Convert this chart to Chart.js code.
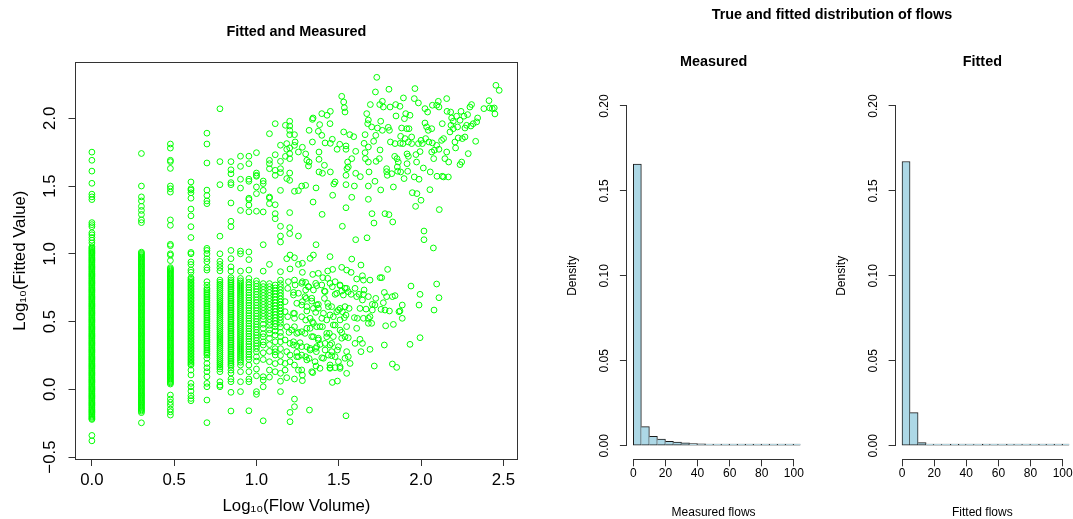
<!DOCTYPE html>
<html><head><meta charset="utf-8">
<script src="https://cdn.jsdelivr.net/npm/chart.js@4.4.1/dist/chart.umd.min.js"></script>
<style>
html,body{margin:0;padding:0;background:#fff;width:1073px;height:519px;overflow:hidden}
canvas{position:absolute;top:0}
#supTitle{position:absolute;left:632px;width:400px;top:6px;height:18px;line-height:18px;text-align:center;font:bold 14.4px "Liberation Sans",Arial,Helvetica,sans-serif;color:#000}
</style></head><body>
<canvas id="scatter" width="540" height="519" style="left:0px"></canvas>
<canvas id="histMeasured" width="266" height="519" style="left:540px"></canvas>
<canvas id="histFitted" width="267" height="519" style="left:806px"></canvas>
<div id="supTitle">True and fitted distribution of flows</div>
<script>
// ---------------- Scatter: Log10(Flow Volume) vs Log10(Fitted Value) ----------------
const scatterXTicks = [0, 0.5, 1.0, 1.5, 2.0, 2.5];
const scatterXTickLabels = ['0.0', '0.5', '1.0', '1.5', '2.0', '2.5'];
const scatterYTicks = [-0.5, 0, 0.5, 1.0, 1.5, 2.0];
const scatterYTickLabels = ['\u22120.5', '0.0', '0.5', '1.0', '1.5', '2.0'];

// columns of small integer flows (x = log10 of flows 1..14)
const colFlowLog = [0, 0.301, 0.477, 0.602, 0.699, 0.778, 0.845, 0.903, 0.954, 1.0, 1.041, 1.079, 1.114, 1.146];
const colFitted = [
 [1.75,1.69,1.61,1.52,1.44,1.42,1.40,1.23,1.215,1.20,1.155,1.14,1.12,1.10,1.08,
  1.052,1.043,1.035,1.026,1.018,1.009,1.001,0.992,0.984,0.975,0.967,0.958,0.950,0.941,0.933,0.924,0.916,0.907,0.899,0.890,0.882,0.873,0.865,0.856,0.848,0.839,0.831,0.822,0.814,0.805,0.797,0.788,0.780,0.771,0.763,0.754,0.746,0.737,0.729,0.720,0.712,0.703,0.695,0.686,0.678,0.669,0.661,0.652,0.644,0.635,0.627,0.618,0.610,0.601,0.593,0.584,0.576,0.567,0.559,0.550,0.542,0.533,0.525,0.516,0.508,0.499,0.491,0.482,0.474,0.465,0.457,0.448,0.440,0.431,0.423,0.414,0.406,0.397,0.389,0.380,0.372,0.363,0.355,0.346,0.338,0.329,0.321,0.312,0.304,0.295,0.287,0.278,0.270,0.261,0.253,0.244,0.236,0.227,0.219,0.210,0.202,0.193,0.185,0.176,0.168,0.159,0.151,0.142,0.134,0.125,0.117,0.108,0.100,0.091,0.083,0.074,0.066,0.057,0.049,0.040,0.032,0.023,0.015,0.006,-0.002,-0.011,-0.019,-0.028,-0.036,-0.045,-0.053,-0.062,-0.070,-0.079,-0.087,-0.096,-0.104,-0.113,-0.121,-0.130,-0.138,-0.147,-0.155,-0.164,-0.172,-0.181,-0.189,-0.198,-0.206,-0.215,-0.222,
  -0.34,-0.38],
 [1.74,1.50,1.42,1.39,1.35,1.32,1.29,1.25,1.23,
  1.012,1.004,0.995,0.987,0.978,0.970,0.961,0.953,0.944,0.936,0.927,0.919,0.910,0.902,0.893,0.885,0.876,0.868,0.859,0.851,0.842,0.834,0.825,0.817,0.808,0.800,0.791,0.783,0.774,0.766,0.757,0.749,0.740,0.732,0.723,0.715,0.706,0.698,0.689,0.681,0.672,0.664,0.655,0.647,0.638,0.630,0.621,0.613,0.604,0.596,0.587,0.579,0.570,0.562,0.553,0.545,0.536,0.528,0.519,0.511,0.502,0.494,0.485,0.477,0.468,0.460,0.451,0.443,0.434,0.426,0.417,0.409,0.400,0.392,0.383,0.375,0.366,0.358,0.349,0.341,0.332,0.324,0.315,0.307,0.298,0.290,0.281,0.273,0.264,0.256,0.247,0.239,0.230,0.222,0.213,0.205,0.196,0.188,0.179,0.171,0.162,0.154,0.145,0.137,0.128,0.120,0.111,0.103,0.094,0.086,0.077,0.069,0.060,0.052,0.043,0.035,0.026,0.018,0.009,0.001,-0.008,-0.016,-0.025,-0.033,-0.042,-0.050,-0.059,-0.067,-0.076,-0.084,-0.093,-0.101,-0.110,-0.118,-0.127,-0.135,-0.144,-0.152,-0.161,-0.172,
  -0.247],
 [1.81,1.78,1.69,1.68,1.63,1.50,1.48,1.455,1.25,1.21,1.07,1.06,1.0,0.99,0.95,
  0.898,0.889,0.881,0.872,0.864,0.855,0.847,0.838,0.830,0.821,0.813,0.804,0.796,0.787,0.779,0.770,0.762,0.753,0.745,0.736,0.728,0.719,0.711,0.702,0.694,0.685,0.677,0.668,0.660,0.651,0.643,0.634,0.626,0.617,0.609,0.600,0.592,0.583,0.575,0.566,0.558,0.549,0.541,0.532,0.524,0.515,0.507,0.498,0.490,0.481,0.473,0.464,0.456,0.447,0.439,0.430,0.422,0.413,0.405,0.396,0.388,0.379,0.371,0.362,0.354,0.345,0.337,0.328,0.320,0.311,0.303,0.294,0.286,0.277,0.269,0.260,0.252,0.243,0.235,0.226,0.218,0.209,0.201,0.192,0.184,0.175,0.167,0.158,0.150,0.141,0.133,0.124,0.116,0.107,0.099,0.090,0.082,0.073,0.065,0.056,0.048,0.039,
  -0.042,-0.072,-0.096,-0.117,-0.146,-0.166,-0.19],
 [1.53,1.48,1.47,1.45,1.41,1.33,1.28,1.20,1.12,1.01,1.0,0.94,0.921,0.88,0.863,
  0.824,0.813,0.802,0.790,0.779,0.768,0.757,0.746,0.735,0.724,0.712,0.701,0.690,0.679,0.668,0.657,0.646,0.634,0.623,0.612,0.601,0.590,0.579,0.568,0.556,0.545,0.534,0.523,0.512,0.501,0.490,0.478,0.467,0.456,0.445,0.434,0.423,0.412,0.400,0.389,0.378,0.367,0.356,0.345,0.334,0.322,0.311,0.300,0.289,0.278,0.267,0.256,0.244,0.233,0.222,0.211,0.200,0.189,0.179,
  0.142,0.106,0.044,0.019,-0.013,-0.047,-0.067,-0.084],
 [1.89,1.81,1.67,1.47,1.43,1.39,1.37,1.04,1.025,1.0,0.964,0.942,0.898,0.88,0.794,0.769,
  0.745,0.733,0.720,0.707,0.694,0.681,0.668,0.655,0.642,0.629,0.616,0.603,0.590,0.577,0.564,0.551,0.538,0.525,0.512,0.499,0.486,0.473,0.460,0.447,0.434,0.421,0.408,0.395,0.382,0.369,0.356,0.343,0.330,0.317,0.304,0.291,0.278,0.265,0.253,
  0.229,0.191,0.159,0.13,0.093,0.044,0.019,-0.079,-0.246],
 [2.07,1.68,1.51,1.13,1.0,0.944,0.922,0.898,0.874,
  0.806,0.790,0.775,0.760,0.745,0.730,0.714,0.699,0.684,0.669,0.653,0.638,0.623,0.608,0.592,0.577,0.562,0.547,0.531,0.516,0.501,0.486,0.470,0.455,0.440,0.425,0.409,0.394,0.379,0.364,0.348,0.333,0.318,0.303,0.287,0.272,0.257,0.242,0.226,0.211,0.196,0.181,0.165,0.150,
  0.13,0.056,0.03,0.019],
 [1.68,1.62,1.59,1.525,1.51,1.375,1.24,1.20,1.025,0.964,0.904,0.872,0.824,
  0.807,0.794,0.781,0.768,0.755,0.742,0.729,0.716,0.703,0.690,0.677,0.664,0.651,0.638,0.625,0.612,0.599,0.586,0.573,0.560,0.547,0.534,0.521,0.508,0.495,0.482,0.469,0.456,0.443,0.430,0.417,0.404,0.391,0.378,0.365,0.352,0.339,0.326,0.313,0.300,0.287,0.274,0.261,0.248,0.235,0.222,0.209,0.196,0.183,0.170,0.142,0.120,
  0.076,0.056,-0.022,-0.16],
 [1.72,1.645,1.55,1.485,1.32,1.02,1.0,0.872,0.818,
  0.800,0.785,0.770,0.755,0.740,0.725,0.710,0.695,0.680,0.665,0.650,0.635,0.620,0.605,0.590,0.575,0.560,0.545,0.530,0.515,0.500,0.485,0.470,0.455,0.440,0.425,0.410,0.395,0.380,0.365,0.350,0.335,0.320,0.305,0.290,0.275,0.260,0.245,0.230,0.215,0.200,
  0.179,0.13,0.056,-0.017],
 [1.72,1.665,1.55,1.535,1.41,1.40,1.36,1.31,1.014,0.957,0.88,0.818,
  0.790,0.771,0.752,0.733,0.714,0.695,0.676,0.657,0.638,0.619,0.600,0.581,0.562,0.543,0.524,0.505,0.486,0.467,0.448,0.429,0.410,0.391,0.372,0.353,0.334,0.315,0.296,0.277,0.258,0.239,0.220,
  0.179,0.13,0.076,0.056,-0.158],
 [1.746,1.596,1.579,1.572,1.493,1.444,1.314,
  0.800,0.780,0.760,0.740,0.720,0.700,0.680,0.660,0.640,0.620,0.600,0.580,0.560,0.540,0.520,0.500,0.480,0.460,0.440,0.420,0.400,0.380,0.360,0.340,0.320,0.300,
  0.277,0.240,0.208,0.150,0.100,-0.017,-0.037],
 [1.537,1.518,1.468,1.309,1.067,0.872,
  0.780,0.758,0.736,0.714,0.692,0.670,0.648,0.626,0.604,0.582,0.560,0.538,0.516,
  0.48,0.45,0.41,0.388,0.35,0.327,0.27,0.22,0.093,0.068,0.019,-0.232],
 [1.886,1.69,1.665,1.628,1.419,1.411,1.37,0.922,
  0.780,0.758,0.736,0.714,0.692,0.670,0.648,0.626,0.604,0.582,0.560,0.538,0.516,0.494,0.472,
  0.44,0.413,0.376,0.33,0.28,0.204,0.142,0.09],
 [1.96,1.731,1.616,1.579,1.362,1.296,1.259,
  0.770,0.748,0.726,0.704,0.682,0.660,0.638,0.616,0.594,0.572,0.550,0.528,0.506,0.484,0.462,
  0.43,0.40,0.351,0.30,0.277,0.253,0.19,0.13],
 [1.801,1.682,1.628,1.599,1.468,1.203,1.131,1.087,0.868,0.806,
  0.780,0.757,0.735,0.712,0.690,0.667,0.645,0.622,0.600,0.577,0.555,0.532,0.510,0.487,
  0.46,0.42,0.39,0.351,0.30,0.25,0.204,0.118,0.06,-0.017]
];

// larger flows, upper cloud [log10 flow, log10 fitted]
const upperCloud = [
[1.202,1.978],[1.202,1.943],[1.202,1.911],[1.202,1.879],[1.184,1.813],[1.202,1.781],[1.184,1.771],[1.202,1.739],[1.202,1.702],[1.202,1.596],[1.184,1.555],[1.202,1.542],[1.202,1.304],[1.202,1.193],[1.202,1.149],[1.184,0.964],[1.176,1.948],[1.176,1.719],
[1.231,1.879],[1.235,1.825],[1.231,1.800],[1.255,1.751],[1.231,1.461],[1.255,1.466],[1.255,1.131],[1.275,1.500],[1.279,1.786],[1.299,1.505],[1.299,1.737],[1.306,1.690],[1.316,1.648],[1.320,1.677],[1.320,1.911],[1.340,1.992],[1.344,2.002],[1.340,1.825],[1.344,1.382],[1.362,1.486],[1.362,1.067],[1.376,1.904],[1.380,1.751],[1.380,1.697],[1.380,1.604],[1.384,1.953],[1.397,2.034],[1.397,1.874],[1.399,1.291],[1.413,1.653],[1.401,1.594],[1.417,1.818],[1.429,2.022],[1.449,2.051],[1.447,1.960],[1.449,1.815],[1.449,1.604],[1.461,1.845],[1.463,1.432],[1.470,1.515],[1.478,1.530],[1.490,1.771],[1.506,1.808],[1.518,2.162],[1.522,1.203],[1.530,2.120],[1.530,1.899],[1.534,2.078],[1.538,2.046],[1.544,1.771],[1.544,1.796],[1.544,1.579],[1.544,1.510],[1.544,1.340],[1.550,1.628],[1.554,1.677],[1.558,1.641],[1.567,1.879],[1.579,1.702],[1.579,1.417],[1.591,1.864],[1.595,1.500],[1.603,1.756],[1.603,1.594],[1.603,1.104],[1.631,1.569],[1.654,1.815],[1.660,1.879],[1.660,1.746],[1.662,1.702],[1.670,2.034],[1.676,1.960],[1.680,1.788],[1.680,1.987],[1.680,1.677],[1.680,1.500],[1.680,1.402],[1.684,1.604],[1.672,1.118],[1.692,2.101],[1.700,1.936],[1.702,1.296],[1.712,1.830],[1.714,1.227],[1.723,2.194],[1.725,1.874],[1.731,2.302],[1.727,1.682],[1.720,1.535],[1.735,1.928],[1.747,1.702],[1.749,2.101],[1.751,1.766],[1.755,1.978],[1.755,1.471],[1.765,2.125],[1.765,1.911],[1.771,2.083],[1.781,1.296],[1.791,1.628],[1.791,1.606],[1.795,1.579],[1.801,1.933],[1.805,2.214],[1.805,1.289],[1.808,1.911],[1.812,2.083],[1.814,1.825],[1.822,1.591],[1.828,1.235],[1.832,1.493],[1.840,1.719],[1.842,1.813],[1.846,2.101],[1.848,2.017],[1.854,1.702],[1.856,1.641],[1.858,1.609],[1.862,1.677],[1.872,2.088],[1.874,1.815],[1.876,1.867],[1.876,1.604],[1.882,1.928],[1.893,2.150],[1.890,1.813],[1.897,1.555],[1.899,1.997],[1.903,1.850],[1.907,2.034],[1.913,1.923],[1.915,1.737],[1.915,1.665],[1.923,1.719],[1.919,1.609],[1.923,1.825],[1.927,1.923],[1.933,2.022],[1.943,1.862],[1.943,1.813],[1.947,1.451],[1.959,2.145],[1.959,1.567],[1.963,2.219],[1.967,1.350],[1.969,1.732],[1.973,1.677],[1.975,1.444],[1.984,2.113],[1.984,1.813],[1.988,1.550],[1.994,1.754],[2.000,1.837],[2.000,1.395],[2.008,1.813],[2.014,1.633],[2.018,1.168],[2.018,1.104],[2.024,2.071],[2.024,1.965],[2.028,1.850],[2.034,1.936],[2.040,2.046],[2.044,1.911],[2.048,1.825],[2.054,1.473],[2.056,1.604],[2.065,1.923],[2.065,1.751],[2.069,2.096],[2.069,1.818],[2.075,1.043],[2.077,1.702],[2.081,1.764],[2.095,2.096],[2.095,1.800],[2.097,1.572],[2.105,2.125],[2.109,2.083],[2.109,1.771],[2.111,1.326],[2.125,1.837],[2.129,1.960],[2.129,1.572],[2.137,1.850],[2.137,1.567],[2.145,1.702],[2.156,2.145],[2.156,1.751],[2.158,2.051],[2.166,1.567],[2.168,1.677],[2.176,1.899],[2.180,2.046],[2.182,1.948],[2.186,2.002],[2.196,1.923],[2.196,1.978],[2.206,1.825],[2.210,1.781],[2.216,2.015],[2.222,1.936],[2.226,1.855],[2.237,1.658],[2.237,1.985],[2.243,2.051],[2.247,1.677],[2.251,1.850],[2.261,2.015],[2.267,1.928],[2.267,1.862],[2.277,1.948],[2.283,2.027],[2.287,1.739],[2.297,2.083],[2.303,1.943],[2.307,2.101],[2.317,1.960],[2.332,1.830],[2.338,1.973],[2.344,2.002],[2.382,2.071],[2.413,2.130],[2.417,2.076],[2.433,2.071],[2.445,2.076],[2.449,2.032],[2.455,2.243],[2.475,2.206]
];

// larger flows, lower cloud [log10 flow, log10 fitted]
const lowerCloud = [
[1.204,0.991],[1.231,0.971],[1.255,0.922],[1.279,0.930],[1.326,0.966],[1.346,0.991],[1.447,0.979],[1.579,0.961],[1.635,0.917],[1.204,0.888],[1.279,0.863],[1.342,0.848],[1.376,0.856],[1.403,0.824],[1.433,0.873],[1.433,0.819],[1.463,0.885],[1.518,0.900],[1.548,0.880],[1.575,0.863],[1.609,0.814],[1.644,0.838],[1.650,0.806],[1.690,0.806],[1.751,0.824],[1.761,0.824],[1.797,0.885],[1.939,0.762],[2.095,0.777],[1.994,0.701],[2.109,0.676],[1.988,0.622],[2.079,0.585],[1.886,0.622],[1.866,0.573],[1.886,0.524],[1.832,0.479],[1.785,0.469],[1.777,0.327],[1.933,0.332],[1.994,0.381],
[1.194,0.794],[1.231,0.806],[1.190,0.745],[1.225,0.715],[1.279,0.794],[1.299,0.789],[1.299,0.733],[1.316,0.757],[1.360,0.782],[1.366,0.765],[1.413,0.725],[1.461,0.757],[1.478,0.794],[1.478,0.701],[1.508,0.765],[1.518,0.725],[1.548,0.745],[1.558,0.720],[1.575,0.701],[1.599,0.745],[1.609,0.684],[1.623,0.701],[1.650,0.701],[1.654,0.733],[1.644,0.659],[1.680,0.684],[1.704,0.627],[1.725,0.671],[1.777,0.715],[1.791,0.684],[1.826,0.684],[1.842,0.691],[1.757,0.590],[1.771,0.639],[1.781,0.585],[1.808,0.578],[1.872,0.578],
[1.174,0.647],[1.174,0.573],[1.190,0.536],[1.231,0.560],[1.231,0.524],[1.275,0.622],[1.279,0.647],[1.302,0.671],[1.306,0.578],[1.336,0.651],[1.346,0.597],[1.340,0.499],[1.360,0.568],[1.376,0.627],[1.397,0.524],[1.413,0.671],[1.433,0.634],[1.437,0.610],[1.457,0.610],[1.467,0.536],[1.478,0.474],[1.498,0.585],[1.508,0.597],[1.522,0.573],[1.534,0.529],[1.544,0.548],[1.563,0.597],[1.595,0.529],[1.609,0.450],[1.613,0.524],[1.629,0.597],[1.650,0.524],[1.666,0.592],[1.680,0.487],[1.700,0.487],[1.704,0.585],[1.680,0.524],[1.720,0.622],[1.690,0.536],
[1.184,0.462],[1.198,0.420],[1.231,0.462],[1.255,0.420],[1.275,0.425],[1.299,0.511],[1.306,0.450],[1.326,0.450],[1.346,0.388],[1.366,0.462],[1.376,0.364],[1.401,0.462],[1.427,0.388],[1.443,0.413],[1.457,0.339],[1.508,0.437],[1.518,0.420],[1.538,0.388],[1.558,0.381],[1.599,0.339],[1.629,0.369],[1.644,0.339],[1.635,0.278],[1.690,0.295],
[1.174,0.364],[1.204,0.339],[1.225,0.351],[1.245,0.322],[1.265,0.344],[1.306,0.314],[1.326,0.302],[1.360,0.302],[1.387,0.332],[1.417,0.339],[1.447,0.327],[1.184,0.278],[1.204,0.253],[1.245,0.273],[1.275,0.253],[1.299,0.241],[1.320,0.228],[1.364,0.278],[1.397,0.233],[1.437,0.253],[1.457,0.248],[1.478,0.241],[1.492,0.290],[1.558,0.241],[1.569,0.191],
[1.174,0.191],[1.204,0.204],[1.231,0.179],[1.255,0.241],[1.362,0.172],[1.447,0.160],[1.478,0.160],[1.508,0.155],[1.174,0.142],[1.184,0.086],[1.231,0.076],[1.255,0.142],[1.279,0.105],[1.279,0.064],[1.342,0.123],[1.461,0.051],[1.492,0.061],[1.716,0.172],[1.826,0.187],[1.852,0.162],
[1.231,-0.072],[1.204,-0.170],[1.231,-0.128],[1.322,-0.153],[1.204,-0.239],[1.544,-0.195]
];

// extra points read from the dense middle cluster
const middleCloud = [
[1.235,0.770],[1.275,0.782],[1.316,0.758],[1.346,0.733],[1.397,0.770],[1.447,0.782],[1.508,0.770],[1.538,0.746],
[1.225,0.696],[1.255,0.709],[1.295,0.684],[1.336,0.672],[1.366,0.623],[1.417,0.721],[1.488,0.709],[1.528,0.696],
[1.245,0.635],[1.306,0.610],[1.376,0.598],[1.407,0.561],[1.447,0.549],[1.488,0.573],[1.538,0.610],
[1.225,0.561],[1.275,0.536],[1.326,0.524],[1.346,0.487],[1.386,0.463],[1.427,0.512],[1.467,0.475],[1.508,0.512],[1.548,0.463],
[1.214,0.438],[1.245,0.413],[1.295,0.413],[1.336,0.389],[1.376,0.377],[1.427,0.413],[1.467,0.389],[1.518,0.377],
[1.225,0.327],[1.275,0.315],[1.326,0.290],[1.366,0.315],[1.417,0.290],[1.457,0.278],[1.498,0.315],[1.548,0.278],
[1.245,0.241],[1.306,0.217],[1.356,0.204],[1.407,0.229],[1.447,0.180],[1.498,0.204],[1.538,0.229],
[1.275,0.143],[1.336,0.130],[1.386,0.155],[1.447,0.155],[1.508,0.167],[1.548,0.118]
];

// ---------------- Histograms (bin width 5) ----------------
const binMids = [2.5,7.5,12.5,17.5,22.5,27.5,32.5,37.5,42.5,47.5,52.5,57.5,62.5,67.5,72.5,77.5,82.5,87.5,92.5,97.5,102.5];
const measuredDensity = [0.1658,0.0112,0.0055,0.0039,0.0026,0.0021,0.0017,0.0013,0.0011,0.0009,0.0007,0.0006,0.0006,0.0005,0.0005,0.0004,0.0004,0.0004,0.0003,0.0003,0.0003];
const fittedDensity = [0.1673,0.0195,0.0018,0.0006,0.0006,0.0006,0.0008,0.0010,0.0008,0.0008,0.0010,0.0008,0.0006,0.0008,0.0006,0.0006,0.0004,0.0006,0.0006,0.0004,0.0004];
const histXTicks = [0, 20, 40, 60, 80, 100];
const histXTickLabels = ['0', '20', '40', '60', '80', '100'];
const histYTicks = [0, 0.05, 0.10, 0.15, 0.20];
const histYTickLabels = ['0.00', '0.05', '0.10', '0.15', '0.20'];

// ---------------- rendering ----------------
const FONT = '"Liberation Sans", Arial, Helvetica, sans-serif';
Chart.defaults.font.family = FONT;
Chart.defaults.color = '#000';
const AXIS = '#333333';

function fixTicks(values) { return s => { s.ticks = values.map(v => ({ value: v })); }; }
function alignPx(p) { return Math.round(p - 0.5) + 0.5; }

const scatterPoints = [];
colFlowLog.forEach((x, i) => colFitted[i].forEach(y => scatterPoints.push({ x: x, y: y })));
upperCloud.concat(lowerCloud, middleCloud).forEach(p => scatterPoints.push({ x: p[0], y: p[1] }));

const X_MIN = -0.0996, X_MAX = 2.585, Y_MIN = -0.514, Y_MAX = 2.413;

new Chart(document.getElementById('scatter'), {
  type: 'scatter',
  data: { datasets: [{
    data: scatterPoints,
    pointStyle: 'circle', pointRadius: 2.9, pointHoverRadius: 2.9,
    pointBorderWidth: 1, borderColor: '#00ff00', backgroundColor: 'rgba(0,0,0,0)'
  }] },
  options: {
    responsive: false, animation: false, events: [],
    layout: { padding: { left: 0, right: 22.7, top: 0, bottom: 0 } },
    plugins: {
      legend: { display: false }, tooltip: { enabled: false },
      title: { display: true, text: 'Fitted and Measured', fullSize: false, color: '#000',
        font: { size: 14.4, weight: 'bold', lineHeight: 1.2 }, padding: { top: 23.7, bottom: 21.3 } }
    },
    scales: {
      x: { type: 'linear', position: 'bottom', min: X_MIN, max: X_MAX,
        afterBuildTicks: fixTicks(scatterXTicks), afterFit: s => { s.height = 60; },
        ticks: { callback: (v, i) => scatterXTickLabels[i], font: { size: 16.8 }, padding: 4.6, autoSkip: false, maxRotation: 0, minRotation: 0, color: '#000' },
        grid: { display: true, drawOnChartArea: false, drawTicks: true, tickLength: 7, color: AXIS, lineWidth: 1 },
        border: { display: true, color: AXIS, width: 1 },
        title: { display: true, text: 'Log\u2081\u2080(Flow Volume)', color: '#000', font: { size: 16.8, lineHeight: 1.2 }, padding: { top: 0, bottom: 2.2 } } },
      y: { type: 'linear', position: 'left', min: Y_MIN, max: Y_MAX,
        afterBuildTicks: fixTicks(scatterYTicks), afterFit: s => { s.width = 75.5; },
        ticks: { callback: (v, i) => scatterYTickLabels[i], font: { size: 16.8 }, padding: 1.9, autoSkip: false, minRotation: 90, maxRotation: 90, crossAlign: 'center', color: '#000' },
        grid: { display: true, drawOnChartArea: false, drawTicks: true, tickLength: 7, color: AXIS, lineWidth: 1 },
        border: { display: true, color: AXIS, width: 1 },
        title: { display: true, text: 'Log\u2081\u2080(Fitted Value)', color: '#000', font: { size: 16.8, lineHeight: 1.2 }, padding: { top: 10.6, bottom: 0 } } },
      x2: { type: 'linear', position: 'top', min: X_MIN, max: X_MAX,
        ticks: { display: false }, grid: { display: false }, border: { display: true, color: AXIS, width: 1 },
        afterFit: s => { s.height = 0; } },
      y2: { type: 'linear', position: 'right', min: Y_MIN, max: Y_MAX,
        ticks: { display: false }, grid: { display: false }, border: { display: true, color: AXIS, width: 1 },
        afterFit: s => { s.width = 0; } }
    }
  }
});

// R-style axis lines spanning first..last tick
const rAxisPlugin = {
  id: 'rAxis',
  afterDraw(chart) {
    const { ctx, chartArea, scales } = chart;
    const xs = scales.x, ys = scales.y;
    ctx.save();
    ctx.strokeStyle = AXIS; ctx.lineWidth = 1;
    ctx.beginPath();
    const yb = alignPx(chartArea.bottom);
    ctx.moveTo(xs.getPixelForValue(histXTicks[0]), yb);
    ctx.lineTo(xs.getPixelForValue(histXTicks[histXTicks.length - 1]), yb);
    const xl = alignPx(chartArea.left);
    ctx.moveTo(xl, ys.getPixelForValue(histYTicks[0]));
    ctx.lineTo(xl, ys.getPixelForValue(histYTicks[histYTicks.length - 1]));
    ctx.stroke();
    ctx.restore();
  }
};

function histChart(id, titleText, xLabel, dens, leftW, rightPad, yTitlePad, yTickPad) {
  const last = dens.length - 1;
  new Chart(document.getElementById(id), {
    type: 'bar',
    data: { datasets: [{
      data: binMids.map((m, i) => ({ x: m, y: dens[i] })),
      backgroundColor: '#add8e6', borderColor: '#1a1a1a',
      borderWidth: c => {
        const i = c.dataIndex;
        return { top: 1, bottom: 1,
          left: (i === 0 || dens[i] > dens[i - 1]) ? 1 : 0,
          right: (i === last || dens[i] >= dens[i + 1]) ? 1 : 0 };
      },
      borderSkipped: false, barPercentage: 1, categoryPercentage: 1, minBarLength: 1.6, grouped: false
    }] },
    options: {
      responsive: false, animation: false, events: [],
      layout: { padding: { left: 0, right: rightPad, top: 0, bottom: 0 } },
      plugins: {
        legend: { display: false }, tooltip: { enabled: false },
        title: { display: true, text: titleText, fullSize: false, color: '#000',
          font: { size: 14.4, weight: 'bold', lineHeight: 1.2 }, padding: { top: 53.7, bottom: 21.4 } }
      },
      scales: {
        x: { type: 'linear', min: -4, max: 104, offset: false,
          afterBuildTicks: fixTicks(histXTicks), afterFit: s => { s.height = 59.7; },
          ticks: { callback: (v, i) => histXTickLabels[i], font: { size: 12 }, padding: 0, autoSkip: false, maxRotation: 0, minRotation: 0, color: '#000' },
          grid: { display: true, offset: false, drawOnChartArea: false, drawTicks: true, tickLength: 7, color: AXIS, lineWidth: 1 },
          border: { display: false },
          title: { display: true, text: xLabel, color: '#000', font: { size: 12, lineHeight: 1 }, padding: { top: 0, bottom: 0 } } },
        y: { type: 'linear', min: -0.008, max: 0.208,
          afterBuildTicks: fixTicks(histYTicks), afterFit: s => { s.width = leftW; },
          ticks: { callback: (v, i) => histYTickLabels[i], font: { size: 12 }, padding: yTickPad, autoSkip: false, minRotation: 90, maxRotation: 90, crossAlign: 'center', color: '#000' },
          grid: { display: true, drawOnChartArea: false, drawTicks: true, tickLength: 7, color: AXIS, lineWidth: 1 },
          border: { display: false },
          title: { display: true, text: 'Density', color: '#000', font: { size: 12, lineHeight: 1.2 }, padding: { top: yTitlePad, bottom: 0 } } }
      }
    },
    plugins: [rAxisPlugin]
  });
}

histChart('histMeasured', 'Measured', 'Measured flows', measuredDensity, 86.9, 5.7, 25.8, 3.7);
histChart('histFitted', 'Fitted', 'Fitted flows', fittedDensity, 89.6, 3.9, 28.5, 3.6);
</script>
</body></html>
